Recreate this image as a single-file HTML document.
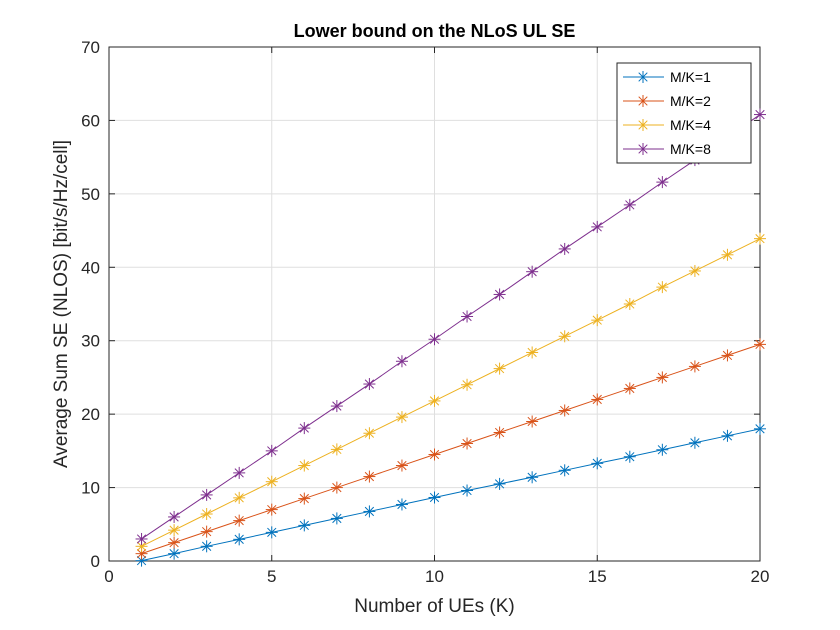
<!DOCTYPE html>
<html><head><meta charset="utf-8"><style>
body{margin:0;background:#fff;}
svg{display:block;font-family:"Liberation Sans",Arial,sans-serif;}
</style></head><body>
<svg id="chart" width="840" height="630">
<rect width="840" height="630" fill="#fff"/>
<g id="grid"></g>
<g id="axes"></g>
<g id="series"></g>
<g id="legend"></g>
</svg>
<script>
const categories=[1,2,3,4,5,6,7,8,9,10,11,12,13,14,15,16,17,18,19,20];
const seriesMK1=[0.05,1.0,2.0,2.95,3.9,4.85,5.8,6.75,7.7,8.65,9.6,10.5,11.4,12.35,13.3,14.2,15.15,16.1,17.05,18.0];
const seriesMK2=[1.0,2.5,4.0,5.5,7.0,8.5,10.0,11.5,13.0,14.5,16.0,17.5,19.0,20.5,22.0,23.5,25.0,26.5,28.0,29.5];
const seriesMK4=[2.0,4.2,6.4,8.6,10.8,13.0,15.2,17.4,19.6,21.8,24.0,26.2,28.4,30.6,32.8,35.0,37.3,39.5,41.7,43.9];
const seriesMK8=[3.0,6.0,9.0,12.0,15.0,18.1,21.1,24.1,27.2,30.2,33.3,36.3,39.4,42.5,45.5,48.5,51.6,54.6,57.7,60.8];
const seriesNames=["M/K=1","M/K=2","M/K=4","M/K=8"];
const xTicks=[0,5,10,15,20];
const yTicks=[0,10,20,30,40,50,60,70];
const colors=["#0072BD","#D95319","#EDB120","#7E2F8E"];
const L=109,R=760,T=47,B=561;
const xs=v=>L+(v-0)/(20-0)*(R-L);
const ys=v=>B-(v-0)/(70-0)*(B-T);
const NS="http://www.w3.org/2000/svg";
function mk(tag,attrs,parent,text){const e=document.createElementNS(NS,tag);for(const k in attrs)e.setAttribute(k,attrs[k]);if(text!==undefined)e.textContent=text;parent.appendChild(e);return e;}
const grid=document.getElementById('grid'),axes=document.getElementById('axes'),ser=document.getElementById('series'),leg=document.getElementById('legend');
xTicks.forEach(t=>{const l=mk('line',{x1:xs(t),x2:xs(t),y1:T,y2:B,stroke:'#dfdfdf','stroke-width':1},grid);

const tl=mk('text',{x:xs(t),y:B+21,'text-anchor':'middle','font-size':17,fill:'#262626'},axes,String(t));

mk('line',{x1:xs(t),x2:xs(t),y1:B,y2:B-6,stroke:'#262626'},axes);mk('line',{x1:xs(t),x2:xs(t),y1:T,y2:T+6,stroke:'#262626'},axes);});
yTicks.forEach(t=>{const l=mk('line',{x1:L,x2:R,y1:ys(t),y2:ys(t),stroke:'#dfdfdf','stroke-width':1},grid);

const tl=mk('text',{x:L-9,y:ys(t)+6,'text-anchor':'end','font-size':17,fill:'#262626'},axes,String(t));

mk('line',{x1:L,x2:L+6,y1:ys(t),y2:ys(t),stroke:'#262626'},axes);mk('line',{x1:R,x2:R-6,y1:ys(t),y2:ys(t),stroke:'#262626'},axes);});
const box=mk('rect',{x:L,y:T,width:R-L,height:B-T,fill:'none',stroke:'#262626','stroke-width':1},axes);

const title=mk('text',{x:(L+R)/2,y:37,'text-anchor':'middle','font-size':18,'font-weight':'bold',fill:'#000'},axes,'Lower bound on the NLoS UL SE');

const xl=mk('text',{x:(L+R)/2,y:612,'text-anchor':'middle','font-size':19,fill:'#262626'},axes,'Number of UEs (K)');

const yl=mk('text',{x:0,y:0,'text-anchor':'middle','font-size':19,fill:'#262626',transform:`translate(67,${(T+B)/2}) rotate(-90)`},axes,'Average Sum SE (NLOS) [bit/s/Hz/cell]');

function star(g,x,y,c){const s=6;[[x-s,y,x+s,y],[x,y-s,x,y+s],[x-4.3,y-4.3,x+4.3,y+4.3],[x-4.3,y+4.3,x+4.3,y-4.3]].forEach(a=>mk('line',{x1:a[0],y1:a[1],x2:a[2],y2:a[3],stroke:c,'stroke-width':1},g));}
[seriesMK1,seriesMK2,seriesMK4,seriesMK8].forEach((data,i)=>{
const g=mk('g',{},ser);
const pl=mk('polyline',{points:data.map((v,j)=>xs(categories[j])+','+ys(v)).join(' '),fill:'none',stroke:colors[i],'stroke-width':1},g);

data.forEach((v,j)=>star(g,xs(categories[j]),ys(v),colors[i]));});
const lb=mk('rect',{x:617,y:63,width:134,height:100,fill:'#fff',stroke:'#262626','stroke-width':1},leg);

seriesNames.forEach((n,i)=>{const y=77+i*24;const g=mk('g',{},leg);

mk('line',{x1:623,x2:664,y1:y,y2:y,stroke:colors[i]},g);star(g,643,y,colors[i]);
mk('text',{x:670,y:y+5,'font-size':14,fill:'#000'},g,n);});
</script>
</body></html>
